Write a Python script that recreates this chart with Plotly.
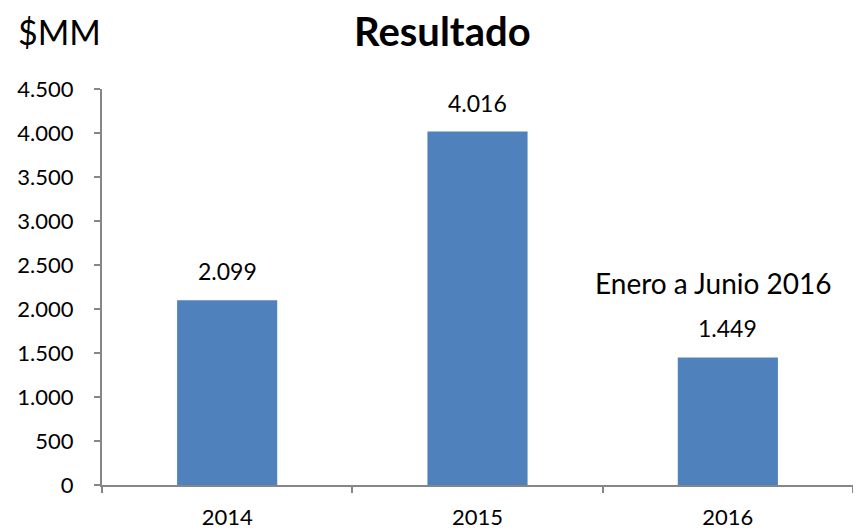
import plotly.graph_objects as go

categories = ["2014", "2015", "2016"]
values = [2099, 4016, 1449]
value_labels = ["2.099", "4.016", "1.449"]
y_ticks = [0, 500, 1000, 1500, 2000, 2500, 3000, 3500, 4000, 4500]
y_tick_labels = ["0", "500", "1.000", "1.500", "2.000", "2.500", "3.000", "3.500", "4.000", "4.500"]
note_text = "Enero a Junio 2016"

FONT = "Lato"
BLUE = "#4F81BD"
AXIS = "#868686"

# page body has an 8px margin; figure sized so the plot area lands where the reference has it
W, H = 853, 524
L, T = 94, 81
PW, PH = 751, 396

fig = go.Figure()
fig.add_trace(go.Bar(x=categories, y=values, marker=dict(color=BLUE, line=dict(width=0)),
                     width=0.4, hoverinfo="skip"))

for i, (v, t) in enumerate(zip(values, value_labels)):
    fig.add_annotation(x=i, y=v, xref="x", yref="y", text=t, showarrow=False,
                       yanchor="bottom", yshift=13,
                       font=dict(family=FONT, size=23, color="#000"))

fig.add_annotation(x=len(categories) - 1 - 0.058, y=2300, xref="x", yref="y", text=note_text,
                   showarrow=False, font=dict(family=FONT, size=28, color="#000"))

fig.update_layout(
    width=W, height=H,
    margin=dict(l=L, r=W - L - PW, t=T, b=H - T - PH, autoexpand=False),
    plot_bgcolor="white", paper_bgcolor="white",
    showlegend=False,
    xaxis=dict(type="category", range=[-0.5, len(categories) - 0.5], showline=True,
               linecolor=AXIS, linewidth=2, ticks="outside",
               tickson="boundaries", ticklen=6, tickcolor=AXIS, tickwidth=2, showgrid=False,
               tickangle=0, automargin=False, ticklabelstandoff=12,
               tickfont=dict(family=FONT, size=22, color="#000")),
    yaxis=dict(range=[0, 4500], tickvals=y_ticks, ticktext=y_tick_labels, showline=True,
               linecolor=AXIS, linewidth=2, ticks="outside", ticklen=6, tickcolor=AXIS, tickwidth=2,
               showgrid=False, zeroline=False, automargin=False, ticklabelstandoff=16,
               tickfont=dict(family=FONT, size=22, color="#000")),
)
# positions in screen pixels of the reference, converted to paper coords
def px(xs):
    return (xs - 8 - L) / PW
def py(ys):
    return (T + PH - (ys - 8)) / PH

fig.add_annotation(x=px(442), y=py(31), xref="paper", yref="paper",
                   text="<b>Resultado</b>", showarrow=False, xanchor="center", yanchor="middle",
                   font=dict(family=FONT, size=40, color="#000"))
fig.add_annotation(x=px(16), y=py(31), xref="paper", yref="paper",
                   text="$MM", showarrow=False, xanchor="left", yanchor="middle",
                   font=dict(family=FONT, size=34, color="#000"))

fig.write_html("out.html")
